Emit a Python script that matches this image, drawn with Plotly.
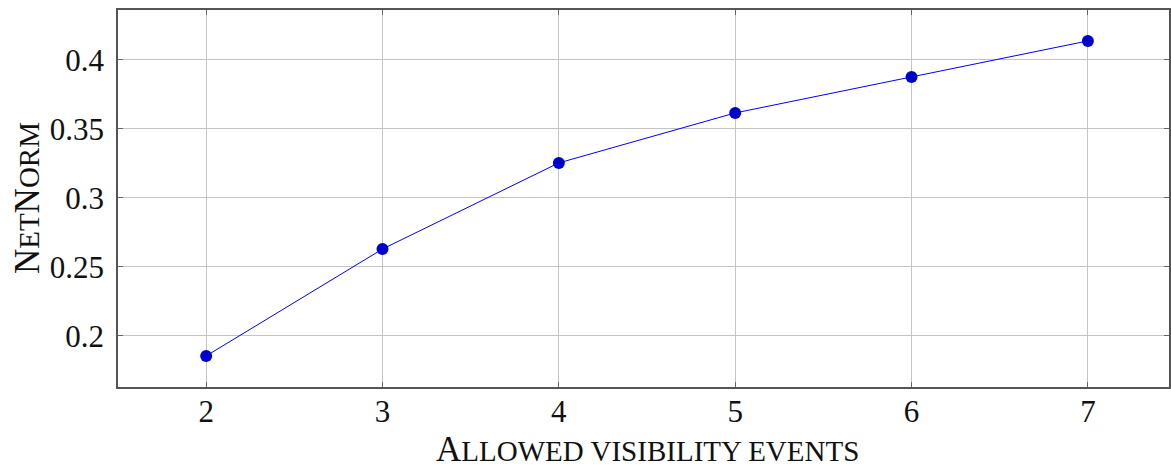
import plotly.graph_objects as go

# Allowed visibility events vs. NetNorm score
events = [2, 3, 4, 5, 6, 7]
netnorm = [0.1855, 0.263, 0.3254, 0.3616, 0.3877, 0.4138]

x_ticks = [2, 3, 4, 5, 6, 7]
y_ticks = [0.2, 0.25, 0.3, 0.35, 0.4]
y_tick_labels = ["0.2", "0.25", "0.3", "0.35", "0.4"]

FONT = "Liberation Serif, serif"
INK = "#111111"
BIG, SMALL = 35, 29


def small_caps(text):
    """Render text as small caps: capitals at full size, the rest as reduced capitals."""
    out = []
    for ch in text:
        if ch.isupper():
            out.append(f"<span style='font-size:{BIG}px'>{ch}</span>")
        else:
            out.append(f"<span style='font-size:{SMALL}px'>{ch.upper()}</span>")
    return "".join(out)


fig = go.Figure()
fig.add_trace(go.Scatter(
    x=events, y=netnorm, mode="lines+markers",
    line=dict(color="#0000ff", width=1),
    marker=dict(color="#0000cc", size=12),
    showlegend=False,
))

axis_common = dict(
    showgrid=True, gridcolor="#c4c4c4", gridwidth=1,
    showline=True, linecolor="#555555", linewidth=1.5,
    ticks="inside", ticklen=5, tickcolor="#666666", tickwidth=1,
    zeroline=False, mirror="allticks",
    tickfont=dict(family=FONT, size=31, color=INK),
)

fig.update_xaxes(range=[1.5, 7.46], tickvals=x_ticks, ticklabelstandoff=-4, **axis_common)
fig.update_yaxes(range=[0.163, 0.4362], tickvals=y_ticks, ticktext=y_tick_labels,
                 ticklabelstandoff=6, **axis_common)

fig.add_annotation(
    text=small_caps("Allowed visibility events"),
    xref="paper", yref="paper", x=0.504, y=-0.167, xanchor="center", yanchor="middle",
    showarrow=False, font=dict(family=FONT, size=SMALL, color=INK),
)
fig.add_annotation(
    text=small_caps("NetNorm"),
    xref="paper", yref="paper", x=-0.086, y=0.5, xanchor="center", yanchor="middle",
    textangle=-90, showarrow=False, font=dict(family=FONT, size=SMALL, color=INK),
)

fig.update_layout(
    width=1171, height=470,
    margin=dict(l=118, r=0, t=10, b=83),
    plot_bgcolor="white", paper_bgcolor="white",
)

fig.write_html("out.html")
